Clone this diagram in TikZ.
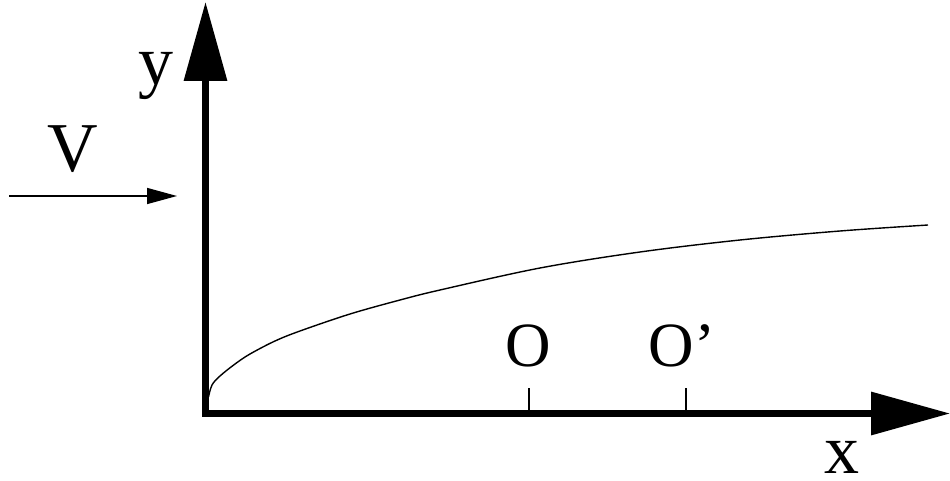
\documentclass[tikz,border=0pt]{standalone}
\usepackage{fontspec}
\setmainfont{Liberation Serif}
\usetikzlibrary{arrows.meta}
\tikzset{
  axis/.style={line width=6.5pt, -{Triangle[length=79pt,width=42pt]}},
  flow/.style={line width=1.5pt, -{Triangle[length=30pt,width=16pt]}},
  thin/.style={line width=1.5pt},
  lbl/.style={inner sep=0pt, anchor=base, font=\fontsize{70}{70}\selectfont},
  olbl/.style={inner sep=0pt, font=\fontsize{63}{63}\selectfont},
}
\begin{document}
\begin{tikzpicture}[x=1pt,y=-1pt]
\useasboundingbox (0,0) rectangle (950,481);
\coordinate (origin) at (205.5,413.5);
\coordinate (ytip) at (205.5,2);
\coordinate (xstart) at (202,413.5);
\coordinate (xtip) at (950,413.5);
\coordinate (vstart) at (9,196);
\coordinate (vtip) at (177,196);
\coordinate (t1) at (529,388);
\coordinate (t1b) at (529,411);
\coordinate (t2) at (686,388);
\coordinate (t2b) at (686,411);
\draw[axis] (origin) -- (ytip);
\draw[axis] (xstart) -- (xtip);
\draw[flow] (vstart) -- (vtip);
\draw[thin] (t1) -- (t1b);
\draw[thin] (t2) -- (t2b);
\draw[thin, line width=1.4pt] plot[smooth, tension=0.55] coordinates {(208.5,397) (212,385) (220,376) (235,364) (250,354) (275,341) (300,331) (350,314) (400,300) (440,290) (540,268) (640,252) (740,240) (840,231) (928,225)};
\node[lbl] (ylab) at (156,85) {y};
\node[lbl] (vlab) at (73,172) {V};
\node[lbl] (xlab) at (842,473) {x};
\node[olbl, anchor=base] (olab) at (528,366) {O};
\node[olbl, anchor=base west] (oplab) at (648.5,366) {O’};
\end{tikzpicture}
\end{document}
